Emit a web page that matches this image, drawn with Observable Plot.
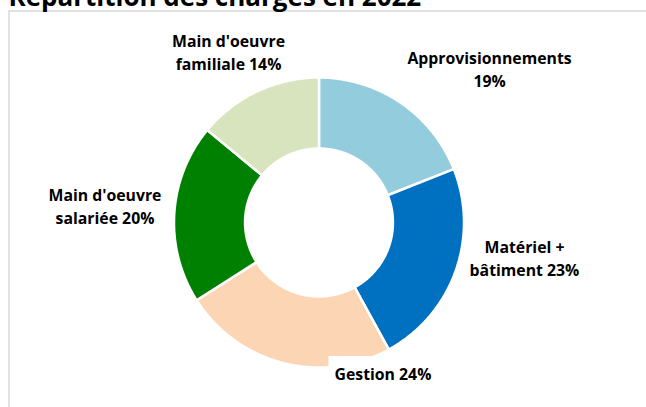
<!DOCTYPE html>
<html><head><meta charset="utf-8">
<script src="https://cdn.jsdelivr.net/npm/d3@7"></script>
<script src="https://cdn.jsdelivr.net/npm/@observablehq/plot@0.6"></script>
<style>html,body{margin:0;padding:0;background:#fff;overflow:hidden} svg{display:block}</style>
</head><body><div id="chart"></div>
<script>
// ---- data ----
const title = "Répartition des charges en 2022";
const categories = ["Approvisionnements", "Matériel + bâtiment", "Gestion", "Main d'oeuvre salariée", "Main d'oeuvre familiale"];
const values = [19, 23, 24, 20, 14];
const labels = ["Approvisionnements\n19%", "Matériel +\nbâtiment 23%", "Gestion 24%", "Main d'oeuvre\nsalariée 20%", "Main d'oeuvre\nfamiliale 14%"];
const colors = ["#93CDDD", "#0070C0", "#FCD5B5", "#008000", "#D7E4BD"];

// ---- layout ----
const cx = 318.5, cy = 222, R = 145, hole = 0.51;
const labelX = [1.176, 1.417, 0.441, -1.476, -0.624];
const labelY = [1.062, -0.236, -1.034, 0.12, 1.182];
const boxed = [false, false, true, false, false];

// slice outlines in unit-circle coordinates (start at 12 o'clock, clockwise)
const total = d3.sum(values);
const pts = [];
let acc = 0;
categories.forEach((c, i) => {
  const a0 = acc / total * 2 * Math.PI, a1 = (acc + values[i]) / total * 2 * Math.PI;
  acc += values[i];
  const n = Math.max(2, Math.ceil((a1 - a0) / (Math.PI / 360)));
  for (let k = 0; k <= n; k++) { const a = a0 + (a1 - a0) * k / n; pts.push({cat: c, x: Math.sin(a), y: Math.cos(a)}); }
  for (let k = n; k >= 0; k--) { const a = a0 + (a1 - a0) * k / n; pts.push({cat: c, x: hole * Math.sin(a), y: hole * Math.cos(a)}); }
});
const labelData = categories.map((c, i) => ({cat: c, text: labels[i], x: labelX[i], y: labelY[i], boxed: boxed[i]}));

const plot = Plot.plot({
  width: 646, height: 407, margin: 0,
  x: {domain: [-1, 1], range: [cx - R, cx + R], axis: null},
  y: {domain: [-1, 1], range: [cy + R, cy - R], axis: null},
  color: {domain: categories, range: colors},
  style: {fontFamily: "'Open Sans', sans-serif", background: "#fff", overflow: "hidden"},
  marks: [
    Plot.frame({stroke: "#d9d9d9", strokeWidth: 1.5, insetLeft: 8.5, insetTop: 10.5, insetRight: -5, insetBottom: -5}),
    Plot.line(pts, {x: "x", y: "y", z: "cat", fill: "cat", stroke: "white", strokeWidth: 2.5, curve: "linear-closed"}),
    Plot.rect(labelData.filter(d => d.boxed), {x1: "x", x2: "x", y1: "y", y2: "y", fill: "white",
      insetLeft: -54, insetRight: -54, insetTop: -16, insetBottom: -16}),
    Plot.text(labelData, {x: "x", y: "y", text: "text", fontSize: 15.8, fontWeight: 700, lineHeight: 1.45, fill: "#000"}),
    Plot.text([title], {frameAnchor: "top-left", dx: 8, dy: 5, lineAnchor: "bottom", textAnchor: "start",
      fontSize: 26, fontWeight: 700, fill: "#000", text: d => d})
  ]
});
document.getElementById("chart").append(plot);
</script>
</body></html>
